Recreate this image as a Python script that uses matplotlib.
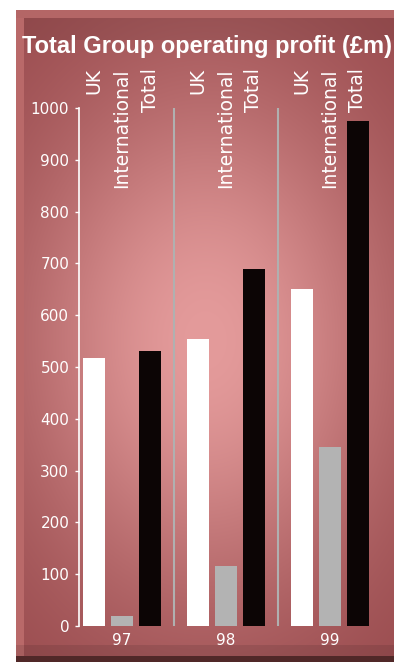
import matplotlib.pyplot as plt
import numpy as np
from matplotlib.transforms import blended_transform_factory

# datos (millones de libras)
anios = ["97", "98", "99"]
series = ["UK", "International", "Total"]
uk = [518, 555, 650]
internacional = [20, 115, 345]
total = [530, 690, 975]
yticks = [0, 100, 200, 300, 400, 500, 600, 700, 800, 900, 1000]

W, H = 396, 667
fig = plt.figure(figsize=(W / 100, H / 100), dpi=100)

# fondo: panel rosado con brillo central
bg_ax = fig.add_axes([0, 0, 1, 1])
yy, xx = np.mgrid[0:H, 0:W]
r2 = ((xx - 205) / 190.0) ** 2 + ((yy - 340) / 260.0) ** 2
brillo = np.exp(-r2)
base = np.array([150, 72, 75]) / 255
luz = np.array([228, 155, 155]) / 255
img = base + (luz - base) * brillo[..., None]
# bordes del panel
img[(yy >= 18) & (yy < 40) & (xx >= 24)] *= 0.92
img[(xx >= 16) & (xx < 24)] = np.array([185, 105, 105]) / 255
img[(yy >= 10) & (yy < 18)] = np.array([180, 102, 102]) / 255
img[(yy >= 645)] *= 0.9
img[(yy >= 656) & (yy < 662)] = np.array([80, 40, 40]) / 255
fuera = (xx < 16) | (xx > 393) | (yy < 10) | (yy >= 662)
img[fuera] = 1.0
bg_ax.imshow(np.clip(img, 0, 1), aspect="auto", extent=[0, W, H, 0])
bg_ax.axis("off")

# ejes del grafico
left, right, bottom, top = 79, 385, 626, 108
ax = fig.add_axes([left / W, 1 - bottom / H, (right - left) / W, (bottom - top) / H])
ax.patch.set_alpha(0)

x = np.arange(len(anios))
off = 0.27
w = 0.21
ax.bar(x - off, uk, w, color="white", zorder=3)
ax.bar(x, internacional, w, color="#b3b3b3", zorder=3)
ax.bar(x + off, total, w, color="#0c0505", zorder=3)

# separadores entre anios
for s in [0.5, 1.5]:
    ax.vlines(s, 0, 1000, color="#b0b0b0", lw=1.5, zorder=2)

ax.set_xlim(-0.413, 2.53)
ax.set_ylim(0, 1000)
for sp in ["top", "right", "bottom"]:
    ax.spines[sp].set_visible(False)
ax.spines["left"].set_color("white")
ax.spines["left"].set_linewidth(1.2)
ax.set_yticks(yticks)
ax.tick_params(axis="y", colors="white", length=3, width=1, labelsize=11, pad=4)
ax.set_xticks(x)
ax.set_xticklabels(anios)
ax.tick_params(axis="x", colors="white", length=0, labelsize=11, pad=5)

# nombres de las series, verticales arriba de cada barra
tr = blended_transform_factory(ax.transData, ax.transAxes)
for i in range(len(anios)):
    for j, nombre in enumerate(series):
        ax.text(x[i] + (j - 1) * off, 1.077, nombre, rotation=90, ha="center", va="top",
                color="white", fontsize=13.5, transform=tr, clip_on=False, zorder=5)

fig.text(22 / W, 1 - 53 / H, "Total Group operating profit (\u00a3m)", color="white",
         fontsize=17, fontweight="bold", family="Liberation Sans", ha="left", va="baseline")

fig.savefig("out.png", dpi=100)
